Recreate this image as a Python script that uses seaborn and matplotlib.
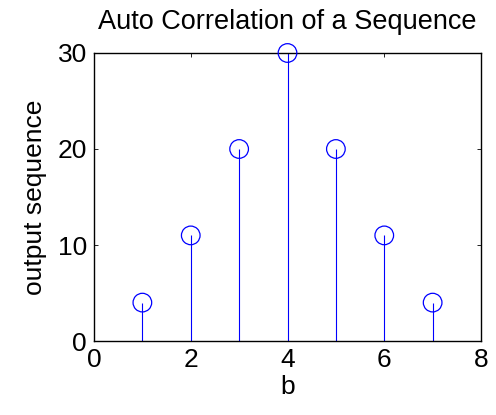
import matplotlib
matplotlib.use("Agg")
import matplotlib.pyplot as plt
import seaborn as sns
import pandas as pd

n = [1, 2, 3, 4, 5, 6, 7]
values = [4, 11, 20, 30, 20, 11, 4]
xticks = [0, 2, 4, 6, 8]
yticks = [0, 10, 20, 30]

sns.set_style("white")
plt.rcParams['font.family'] = ['Liberation Sans', 'DejaVu Sans']
plt.rcParams['text.color'] = 'black'
plt.rcParams['axes.labelcolor'] = 'black'

df = pd.DataFrame({"b": n, "y": values})

fig = plt.figure(figsize=(4.96, 4.15), dpi=100)
ax = fig.add_axes([0.1895, 0.1783, 0.7803, 0.694])

ax.vlines(df["b"], 0, df["y"], color="#0000ff", linewidth=0.8, zorder=2)
sns.scatterplot(data=df, x="b", y="y", ax=ax, marker="o", s=180,
                facecolors="none", edgecolor="#0000ff", linewidth=0.9,
                zorder=3, clip_on=False)

ax.set_xlim(0, 8)
ax.set_ylim(0, 30)
ax.set_xticks(xticks)
ax.set_yticks(yticks)
ax.tick_params(direction="in", length=3, width=0.6, labelsize=19, pad=5,
               top=True, right=True, bottom=True, left=True, colors="black")
for s in ax.spines.values():
    s.set_visible(True)
    s.set_color("black")
    s.set_linewidth(1.0)
ax.set_xlabel("b", fontsize=19, labelpad=2, color="black")
ax.set_ylabel("output sequence", fontsize=19, labelpad=8, color="black")
ax.set_title("Auto Correlation of a Sequence", fontsize=19.5, pad=17, color="black")

fig.savefig("out.png", dpi=100)
